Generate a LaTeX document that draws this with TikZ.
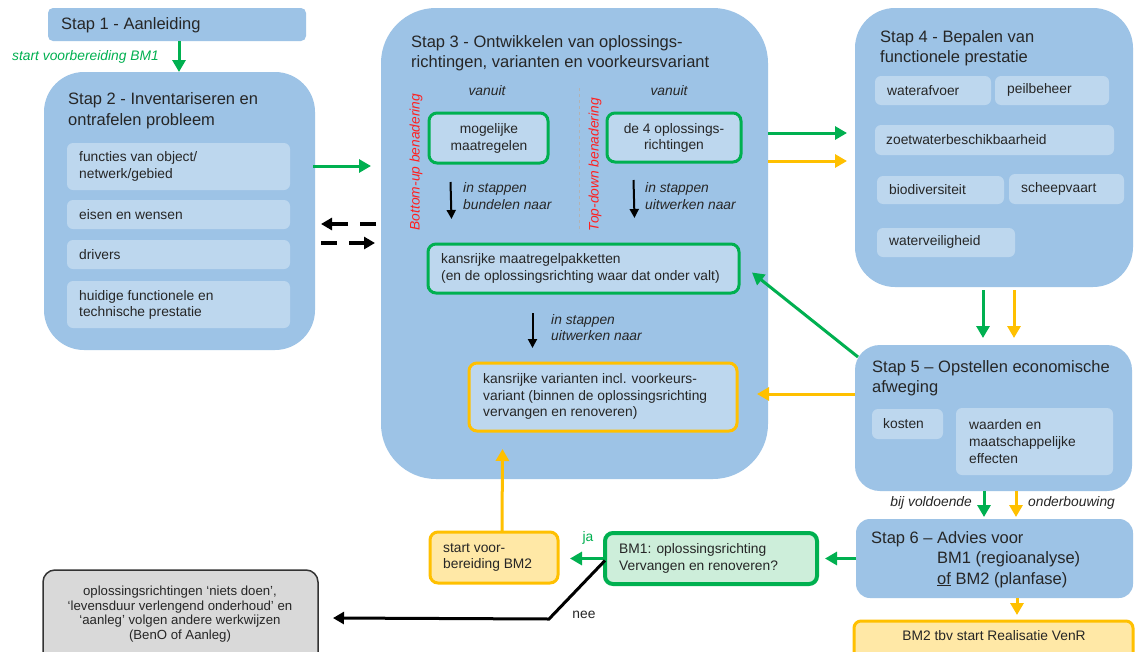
\documentclass[tikz,border=0pt]{standalone}
\usepackage{fontspec}
\setmainfont{Liberation Sans}
\usetikzlibrary{arrows.meta}
\definecolor{sblue}{HTML}{9DC3E6}
\definecolor{lblue}{HTML}{BDD7EE}
\definecolor{gr}{HTML}{00B050}
\definecolor{orr}{HTML}{FFC000}
\definecolor{yfill}{HTML}{FFE8A6}
\definecolor{gfill}{HTML}{CDEEDA}
\definecolor{txt}{HTML}{262626}
\definecolor{redt}{HTML}{FF2020}
\definecolor{grayfill}{HTML}{D9D9D9}
\begin{document}
\begin{tikzpicture}[x=1pt,y=-1pt,
  box/.style={rectangle, anchor=north west, inner sep=0pt, outer sep=0pt},
  wh/.style 2 args={minimum width=#1pt, minimum height=#2pt},
  stepbox/.style={box, fill=sblue},
  inbox/.style={box, fill=lblue, rounded corners=6pt},
  gbox/.style={box, fill=lblue, draw=gr, line width=3pt, rounded corners=8pt},
  obox/.style={box, fill=lblue, draw=orr, line width=3pt, rounded corners=8pt},
  ttl/.style={anchor=west, inner sep=0pt, align=left, text=txt, font=\fontsize{16.5}{20.5}\selectfont},
  sml/.style={anchor=west, inner sep=0pt, align=left, text=txt, font=\fontsize{13.8}{16.8}\selectfont},
  smc/.style={anchor=center, inner sep=0pt, align=center, text=txt, font=\fontsize{13.8}{16.8}\selectfont},
  lab/.style={anchor=west, inner sep=0pt, align=left, text=txt, font=\fontsize{13.8}{16.8}\selectfont\itshape},
  garr/.style={draw=gr, line width=3pt, -{Triangle[length=12pt,width=13pt]}},
  oarr/.style={draw=orr, line width=3pt, -{Triangle[length=12pt,width=13pt]}},
  barr/.style={draw=black, line width=2pt, -{Triangle[length=9pt,width=9pt]}},
  darr/.style={draw=black, line width=3.5pt, dash pattern=on 16pt off 12pt, -{Triangle[length=11pt,width=12pt]}},
]
\useasboundingbox (0,0) rectangle (1138,651);
\fill[white] (0,0) rectangle (1138,651);

% ---------- Stap 1 ----------
\node[stepbox, wh={258}{33}, rounded corners=5pt] (s1) at (48,8) {};
\node[ttl] (s1t) at (61,25) {Stap 1 - Aanleiding};
\node[lab, text=gr] (s1l) at (12,57) {start voorbereiding BM1};

% ---------- Stap 2 ----------
\node[stepbox, wh={271}{278}, rounded corners=40pt] (s2) at (44,72) {};
\node[ttl] (s2t) at (68,110.5) {Stap 2 - Inventariseren en\\ontrafelen probleem};
\node[inbox, wh={223}{47}] (s2a) at (67,143) {};
\node[inbox, wh={223}{29}] (s2b) at (67,200) {};
\node[inbox, wh={223}{29}] (s2c) at (67,240) {};
\node[inbox, wh={223}{47}] (s2d) at (67,281) {};
\node[sml] (s2at) at (79,166.5) {functies van object/\\netwerk/gebied};
\node[sml] (s2bt) at (79,215) {eisen en wensen};
\node[sml] (s2ct) at (79,255) {drivers};
\node[sml] (s2dt) at (79,305) {huidige functionele en\\technische prestatie};

% ---------- Stap 3 ----------
\node[stepbox, wh={387}{471}, rounded corners=55pt] (s3) at (381,8) {};
\node[ttl] (s3t) at (411,53) {Stap 3 - Ontwikkelen van oplossings-\\richtingen, varianten en voorkeursvariant};
\node[lab, anchor=center] (v1) at (487,91) {vanuit};
\node[lab, anchor=center] (v2) at (669,91) {vanuit};
\draw[gray!60, dashed, line width=0.6pt] (579,88) -- (579,232);
\node[lab, anchor=center, text=redt, rotate=90] (bu) at (416,162) {Bottom-up benadering};
\node[lab, anchor=center, text=redt, rotate=90] (td) at (595,164.5) {Top-down benadering};
\node[gbox, wh={119}{50}] (mog) at (429,113) {};
\node[smc] (mogt) at (489,138.5) {mogelijke\\maatregelen};
\node[gbox, wh={134}{49}] (de4) at (607,113) {};
\node[smc] (de4t) at (674,138) {de 4 oplossings-\\richtingen};
\node[lab] (l1) at (463,196) {in stappen\\bundelen naar};
\node[lab] (l2) at (645,196) {in stappen\\uitwerken naar};
\node[gbox, wh={311}{49}] (kmp) at (428,244) {};
\node[sml] (kmpt) at (441,268.5) {kansrijke maatregelpakketten\\(en de oplossingsrichting waar dat onder valt)};
\node[lab] (l3) at (551,327.5) {in stappen\\uitwerken naar};
\node[obox, wh={268}{68}] (kv) at (469,363) {};
\node[sml] (kvt) at (483,396.5) {kansrijke varianten incl. voorkeurs-\\variant (binnen de oplossingsrichting\\vervangen en renoveren)};

% ---------- Stap 4 ----------
\node[stepbox, wh={278}{279}, rounded corners=40pt] (s4) at (855,8) {};
\node[ttl] (s4t) at (880,48) {Stap 4 - Bepalen van\\functionele prestatie};
\node[inbox, wh={116}{29}] (wa) at (875,76) {};
\node[inbox, wh={114}{29}] (pb) at (995,76) {};
\node[inbox, wh={239}{30}] (zw) at (875,125) {};
\node[inbox, wh={127}{28}] (bd) at (877,176) {};
\node[inbox, wh={115}{30}] (sv) at (1009,174) {};
\node[inbox, wh={138}{29}] (wv) at (877,228) {};
\node[sml] (wat) at (887,90.5) {waterafvoer};
\node[sml] (pbt) at (1007,90) {peilbeheer};
\node[sml] (zwt) at (886,140) {zoetwaterbeschikbaarheid};
\node[sml] (bdt) at (889,190) {biodiversiteit};
\node[sml] (svt) at (1021,189) {scheepvaart};
\node[sml] (wvt) at (889,242) {waterveiligheid};

% ---------- Stap 5 ----------
\node[stepbox, wh={277}{146}, rounded corners=25pt] (s5) at (855,345) {};
\node[ttl] (s5t) at (872,378) {Stap 5 -- Opstellen economische\\afweging};
\node[inbox, wh={71}{30}] (ko) at (872,409) {};
\node[inbox, wh={157}{67}] (wd) at (956,408) {};
\node[sml] (kot) at (883,424) {kosten};
\node[sml] (wdt) at (969,441.5) {waarden en\\maatschappelijke\\effecten};

% ---------- Stap 6 ----------
\node[stepbox, wh={277}{79}, rounded corners=14pt] (s6) at (856,519) {};
\node[ttl] (s6t) at (871,539) {Stap 6 -- Advies voor};
\node[ttl] (s6b) at (937,559) {BM1 (regioanalyse)};
\node[ttl, anchor=base west] (s6c) at (937,584) {\underline{of} BM2 (planfase)};
\node[lab, anchor=east] (bv) at (972,503) {bij voldoende};
\node[lab] (ob) at (1028,503) {onderbouwing};

% ---------- BM2 ----------
\node[box, wh={279}{40}, fill=yfill, draw=orr, line width=3pt, rounded corners=7pt] (bm2) at (854,621) {};
\node[smc] (bm2t) at (994,636) {BM2 tbv start Realisatie VenR};

% ---------- BM1 decision ----------
\node[box, wh={212}{51}, fill=gfill, draw=gr, line width=4pt, rounded corners=8pt] (bm1) at (605,533) {};
\node[sml] (bm1t) at (619,558.5) {BM1: oplossingsrichting\\Vervangen en renoveren?};
\node[box, wh={128}{51}, fill=yfill, draw=orr, line width=3pt, rounded corners=8pt] (st) at (430,532) {};
\node[sml] (stt) at (443,557.5) {start voor-\\bereiding BM2};
\node[box, wh={275}{100}, fill=grayfill, draw=black!80, line width=1.5pt, rounded corners=12pt] (gb) at (43,570) {};
\node[smc, font=\fontsize{13.2}{14.8}\selectfont] (gbt) at (180,614) {oplossingsrichtingen `niets doen',\\`levensduur verlengend onderhoud' en\\`aanleg' volgen andere werkwijzen\\(BenO of Aanleg)};
\node[inner sep=0pt, text=gr, font=\fontsize{13.8}{16}\selectfont] (ja) at (588,538) {ja};
\node[inner sep=0pt, text=txt, font=\fontsize{13.8}{16}\selectfont] (nee) at (584,615) {nee};

% ---------- connectors ----------
\draw[garr] ([xshift=131pt]s1.south west) -- ([xshift=135pt]s2.north west);
\draw[garr] ([xshift=-2pt,yshift=45pt]s2.east) -- ([xshift=-10pt,yshift=77.5pt]s3.west);
\draw[darr] ([xshift=-5pt,yshift=19.5pt]s3.west) -- ([xshift=6pt,yshift=-13pt]s2.east);
\draw[darr] ([xshift=6pt,yshift=-32pt]s2.east) -- ([xshift=-6pt,yshift=0.5pt]s3.west);
\draw[garr] ([yshift=110.5pt]s3.east) -- ([xshift=-8pt,yshift=14.5pt]s4.west);
\draw[oarr] ([yshift=82.5pt]s3.east) -- ([xshift=-8pt,yshift=-13.5pt]s4.west);
\draw[garr] ([xshift=-11pt,yshift=-3pt]s4.south) -- ([xshift=-10.5pt,yshift=7pt]s5.north);
\draw[oarr] ([xshift=20pt,yshift=-3pt]s4.south) -- ([xshift=20.5pt,yshift=7pt]s5.north);
\draw[garr] ([xshift=3pt,yshift=-12pt]s5.north west) -- ([xshift=13pt,yshift=-4pt]kmp.east);
\draw[oarr] ([yshift=24pt]s5.west) -- ([xshift=20pt,yshift=3pt]kv.east);
\draw[garr] ([xshift=-9.5pt]s5.south) -- ([xshift=-10.5pt,yshift=2pt]s6.north);
\draw[oarr] ([xshift=22.5pt]s5.south) -- ([xshift=21.5pt,yshift=2pt]s6.north);
\draw[oarr] ([xshift=22.5pt]s6.south) -- ([xshift=23.5pt,yshift=6pt]bm2.north);
\draw[garr] (s6.west) -- ([xshift=8pt]bm1.east);
\draw[garr] (bm1.west) -- ([xshift=12pt,yshift=-1pt]st.east);
\draw[oarr] ([xshift=8pt]st.north) -- ([xshift=-100.5pt,yshift=-18pt]kv.south);
\draw[draw=black, line width=3pt, -{Triangle[length=11pt,width=12pt]}] ([yshift=-2pt]bm1.west) -- (549,619) -- ([xshift=15pt,yshift=2pt]gb.east);
\draw[barr] ([xshift=-38pt,yshift=-19pt]mog.south) -- ([xshift=-132pt,yshift=25pt]kmp.north);
\draw[barr] ([xshift=-40.5pt,yshift=-18pt]de4.south) -- ([xshift=51pt,yshift=26pt]kmp.north);
\draw[barr] ([xshift=-51pt,yshift=-20pt]kmp.south) -- ([xshift=-70.5pt,yshift=15pt]kv.north);
\end{tikzpicture}
\end{document}
